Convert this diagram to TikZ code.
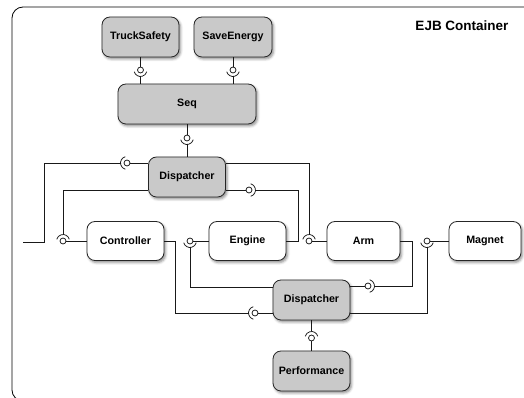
\documentclass[tikz,border=0pt]{standalone}
\usepackage{fontspec}
\setmainfont{Liberation Sans}
\usetikzlibrary{shadows.blur}

\tikzset{
  comp/.style={draw=black!85, line width=0.8pt, rounded corners=8pt, fill=white,
    minimum width=77pt, minimum height=40pt, inner sep=0pt,
    font=\bfseries\fontsize{10.7}{12}\selectfont,
    blur shadow={shadow xshift=1.5pt, shadow yshift=-2pt, shadow blur radius=2.5pt, shadow opacity=45}},
  compg/.style={comp, fill=gray!42},
  wire/.style={line width=0.75pt, black!90},
  sock/.pic={
    \draw[wire, fill=white] (0,0) circle (3pt);
    \draw[wire] (-75:6.5pt) arc (-75:75:6.5pt);
  }
}

\begin{document}
\begin{tikzpicture}[x=1pt,y=1pt]
\useasboundingbox (0,0) rectangle (524,398);
\clip (0,0) rectangle (524,398);

% Container
\draw[line width=0.8pt, rounded corners=11pt] (12,-3) rectangle (545,391);
\node[font=\bfseries\fontsize{13.5}{15}\selectfont] (lbl) at (462,372) {EJB Container};

% Components
\node[compg] (ts) at (140.5,361) {TruckSafety};
\node[compg, minimum width=78pt] (se) at (233,361) {SaveEnergy};
\node[compg, minimum width=138pt] (seq) at (187,294) {Seq};
\node[compg] (dpa) at (187,221) {Dispatcher};
\node[comp, minimum height=39pt] (ctl) at (125.5,157) {Controller};
\node[comp, minimum height=39pt] (eng) at (247.5,157) {Engine};
\node[comp, minimum height=39pt, minimum width=73pt] (arm) at (363.5,157) {Arm};
\node[comp, minimum height=39pt, minimum width=72pt] (mag) at (485,157) {Magnet};
\node[compg] (dpb) at (311.5,98) {Dispatcher};
\node[compg] (perf) at (311.5,27) {Performance};

% Ball and socket joints (rotation = side of the socket)
\foreach \n/\x/\y/\r in {s1/140.5/328/-90, s2/233/328/-90, s3/187/260/-90,
    s4/127/235/180, s5/63/157/90, s6/249/208/0, s7/309/157/90,
    s8/255/85/180, s9/190/157/-90, s10/368/112/0, s11/427/157/-90, s12/311.5/60/90} {
  \coordinate (\n) at (\x,\y);
  \pic[rotate=\r] at (\n) {sock};
}
\coordinate (ext) at (23,156);

% Top part
\draw[wire, shorten >=3pt] (ts) -- (s1);
\draw[wire, shorten <=6.5pt] (s1) -- (s1 |- seq.north);
\draw[wire, shorten >=3pt] (se) -- (s2);
\draw[wire, shorten <=6.5pt] (s2) -- (s2 |- seq.north);
\draw[wire, shorten >=3pt] (seq) -- (s3);
\draw[wire, shorten <=6.5pt] (s3) -- (dpa);

% First dispatcher
\draw[wire, shorten >=3pt] ([yshift=14pt]dpa.west) -- (s4);
\draw[wire, shorten <=6.5pt] (s4) -| (44,156) -- (ext);
\draw[wire, shorten >=6.5pt] ([yshift=-13pt]dpa.west) -| (s5);
\draw[wire, shorten <=3pt] (s5) -- (ctl.west);
\draw[wire, shorten >=3pt] ([yshift=-13pt]dpa.east) -- (s6);
\draw[wire, shorten <=6.5pt] (s6) -| ([xshift=12pt]eng.east) -- (eng.east);
\draw[wire, shorten >=6.5pt] ([yshift=14pt]dpa.east) -| (s7);
\draw[wire, shorten <=3pt] (s7) -- (arm.west);

% Second dispatcher
\draw[wire, shorten >=3pt] ([yshift=-13pt]dpb.west) -- (s8);
\draw[wire, shorten <=6.5pt] (s8) -| ([xshift=11pt]ctl.east) -- (ctl.east);
\draw[wire, shorten <=3pt] (s9) -- (eng.west);
\draw[wire, shorten <=6.5pt] (s9) |- ([yshift=13pt]dpb.west);
\draw[wire, shorten >=3pt] ([yshift=14pt]dpb.east) -- (s10);
\draw[wire, shorten <=6.5pt] (s10) -| ([xshift=12pt]arm.east) -- (arm.east);
\draw[wire, shorten <=3pt] (s11) -- (mag.west);
\draw[wire, shorten <=6.5pt] (s11) |- ([yshift=-13pt]dpb.east);
\draw[wire, shorten >=6.5pt] (dpb) -- (s12);
\draw[wire, shorten <=3pt] (s12) -- (perf);
\end{tikzpicture}
\end{document}
